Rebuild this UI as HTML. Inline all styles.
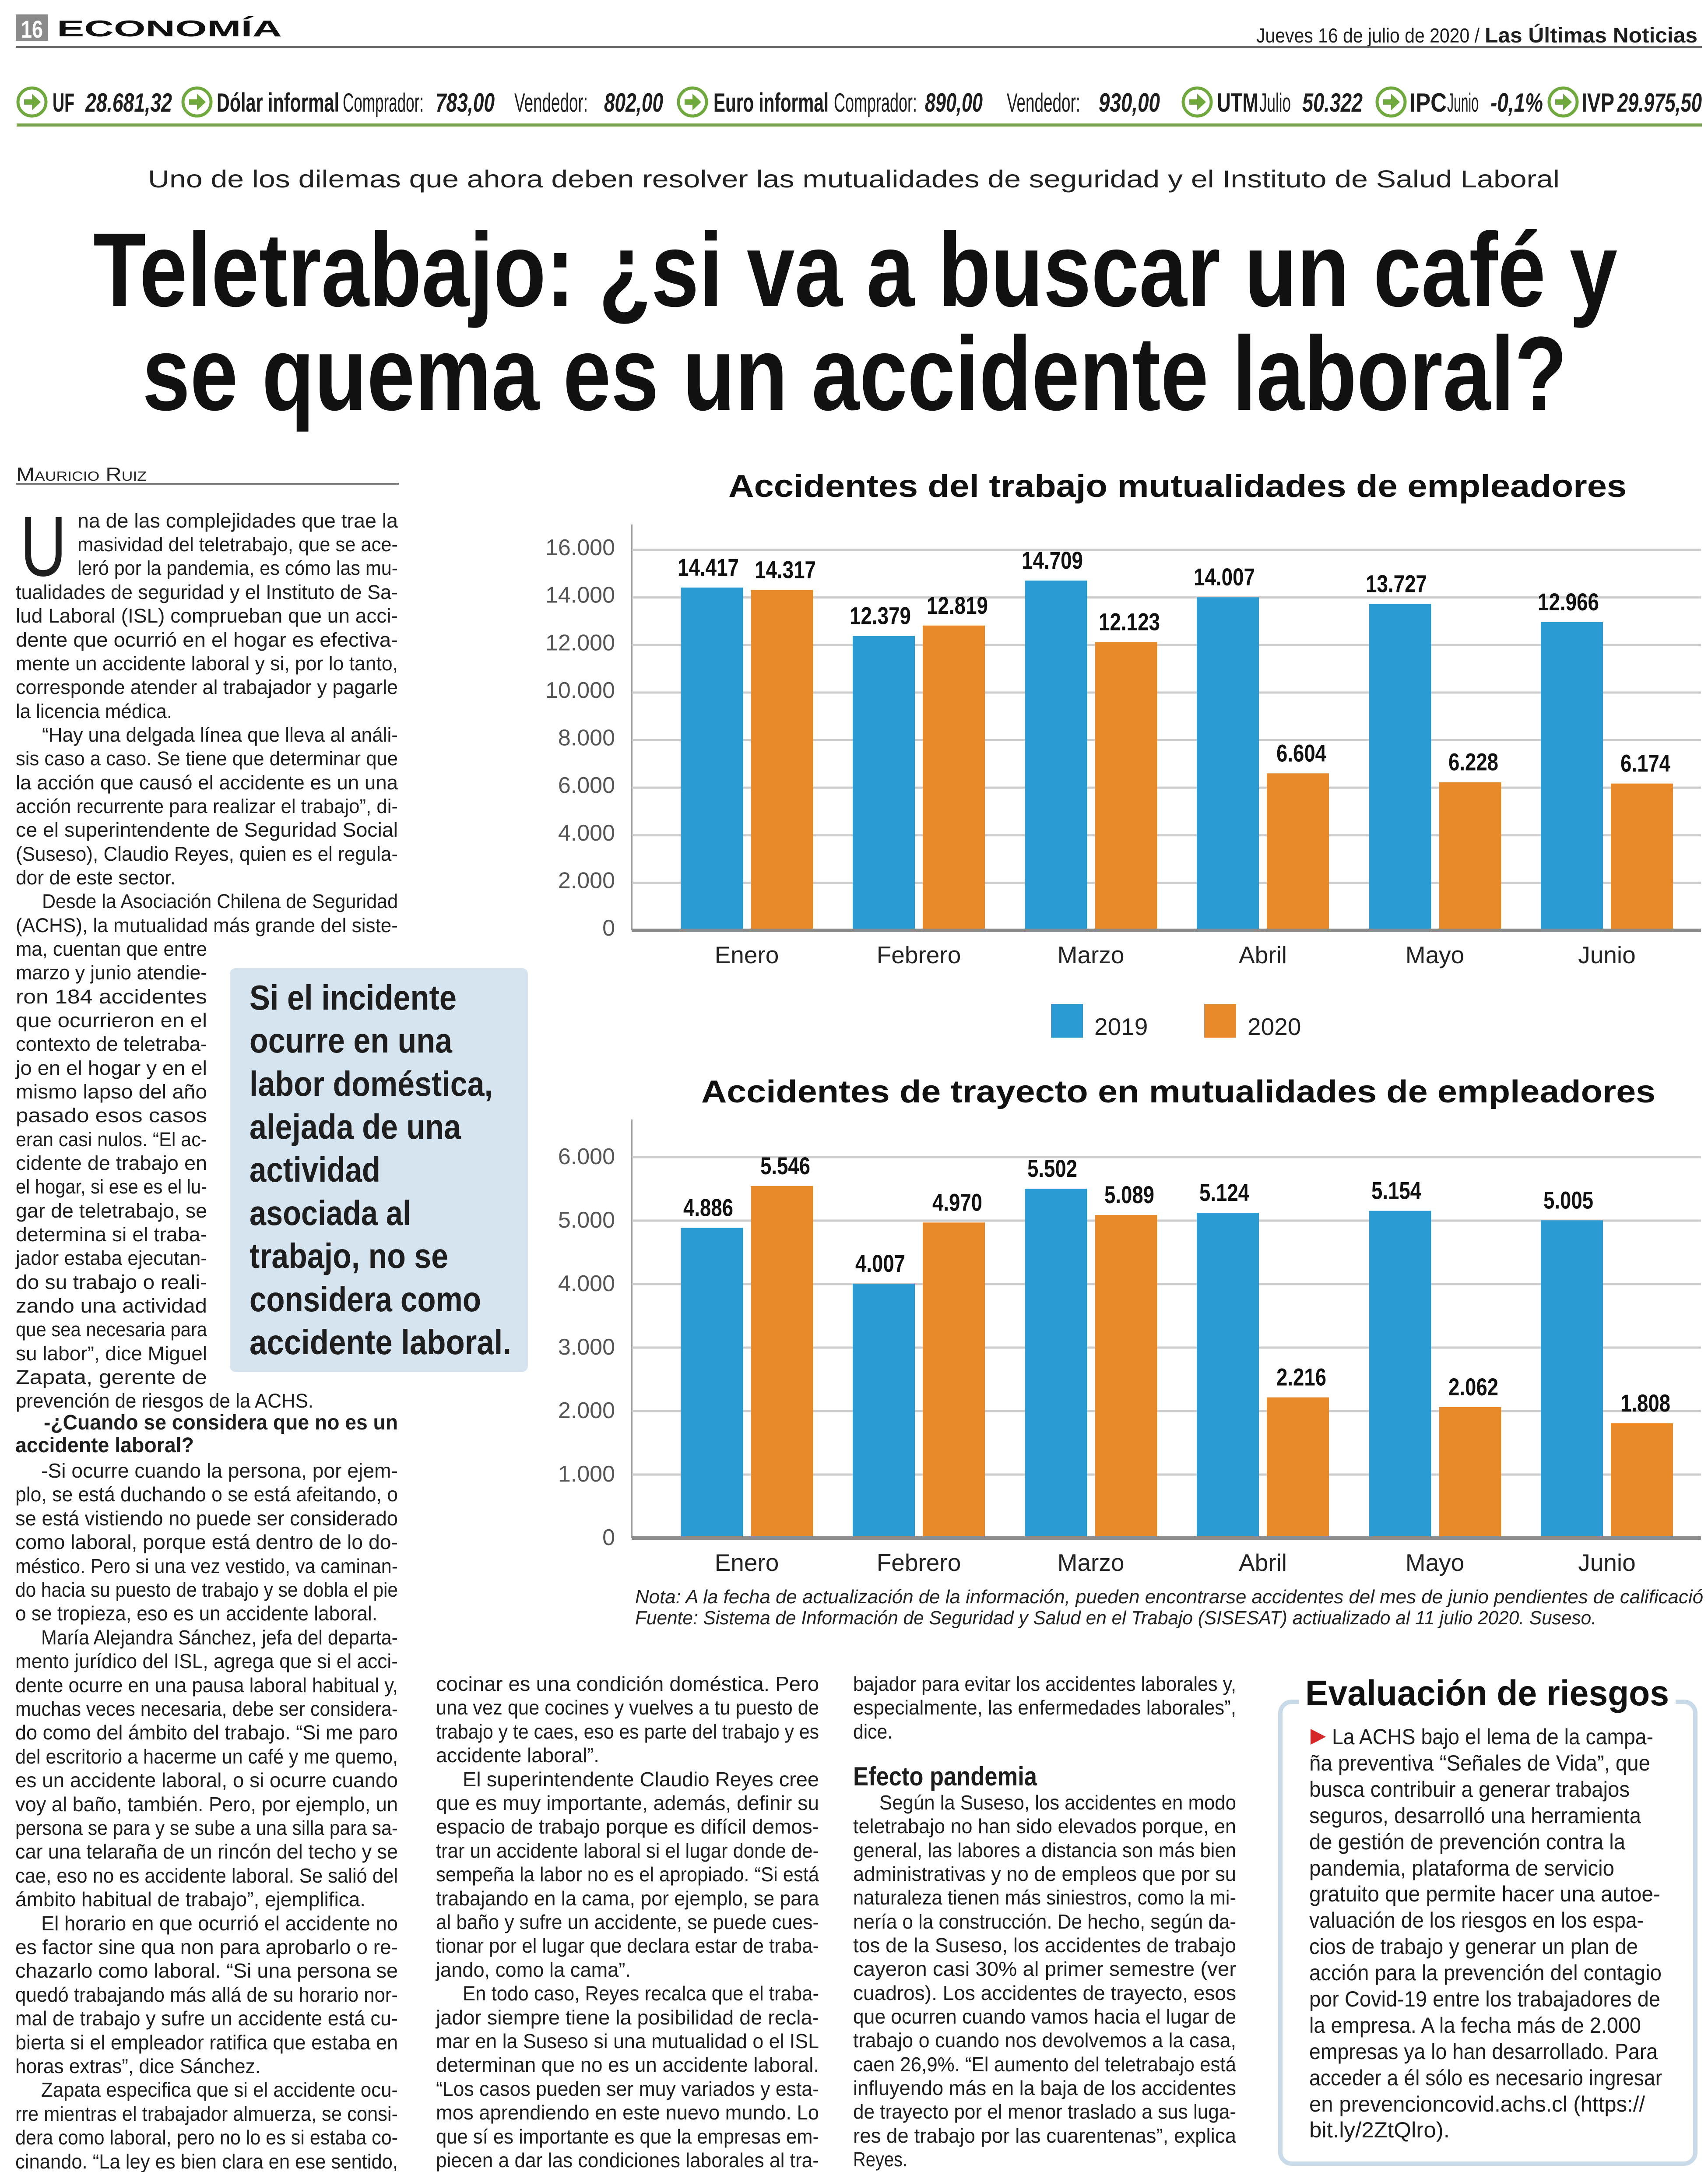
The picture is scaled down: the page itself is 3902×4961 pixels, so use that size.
<!DOCTYPE html>
<html lang="es">
<head>
<meta charset="utf-8">
<title>Teletrabajo: ¿si va a buscar un café y se quema es un accidente laboral?</title>
<style>
html,body{margin:0;padding:0;background:#fff;}
body{width:3902px;height:4961px;overflow:hidden;}
svg{display:block;}
text{font-family:"Liberation Sans",sans-serif;fill:#1e1e1e;}
.b{font-weight:bold;}
.body1{font-size:45px;}
.body2{font-size:46px;}
.boxt{font-size:50px;}
.tick{font-size:52px;fill:#555;}
.month{font-size:55px;fill:#222;}
.val{font-size:56px;font-weight:bold;fill:#111;}
.ctitle{font-size:72px;font-weight:bold;fill:#111;}
.note{font-size:44px;font-style:italic;fill:#222;}
.tk{font-size:60px;}
</style>
</head>
<body>
<svg id="page" width="3902" height="4961" viewBox="0 0 3902 4961" xmlns="http://www.w3.org/2000/svg">
<rect x="0" y="0" width="3902" height="4961" fill="#fff"/>

<!-- Header -->
<g>
  <rect x="36" y="33" width="74" height="60" fill="#8a8a8a"/>
  <text x="73" y="86" text-anchor="middle" class="b" font-size="56" style="fill:#fff" textLength="50" lengthAdjust="spacingAndGlyphs">16</text>
  <text x="130" y="83" class="b" font-size="52" textLength="514" lengthAdjust="spacingAndGlyphs" style="fill:#111">ECONOMÍA</text>
  <text x="2870" y="97" font-size="46" textLength="510" lengthAdjust="spacingAndGlyphs">Jueves 16 de julio de 2020 /</text>
  <text x="3392" y="97" class="b" font-size="48" textLength="486" lengthAdjust="spacingAndGlyphs">Las Últimas Noticias</text>
  <rect x="36" y="105" width="3852" height="4" fill="#666"/>
</g>

<!-- Ticker -->
<g>
  <g fill="#fff" stroke="#6fa83d" stroke-width="7">
    <circle cx="73" cy="233" r="32"/>
    <circle cx="450" cy="233" r="32"/>
    <circle cx="1582" cy="233" r="32"/>
    <circle cx="2735" cy="233" r="32"/>
    <circle cx="3178" cy="233" r="32"/>
    <circle cx="3571" cy="233" r="32"/>
  </g>
  <g fill="#6fa83d">
    <path d="M55 227h18v-13l20 19-20 19v-13h-18z"/>
    <path d="M432 227h18v-13l20 19-20 19v-13h-18z"/>
    <path d="M1564 227h18v-13l20 19-20 19v-13h-18z"/>
    <path d="M2717 227h18v-13l20 19-20 19v-13h-18z"/>
    <path d="M3160 227h18v-13l20 19-20 19v-13h-18z"/>
    <path d="M3553 227h18v-13l20 19-20 19v-13h-18z"/>
  </g>
  <text class="tk b" x="120" y="255" textLength="50" lengthAdjust="spacingAndGlyphs">UF</text>
  <text class="tk b" x="195" y="255" font-style="italic" textLength="198" lengthAdjust="spacingAndGlyphs">28.681,32</text>
  <text class="tk b" x="495" y="255" textLength="280" lengthAdjust="spacingAndGlyphs">Dólar informal</text>
  <text class="tk" x="783" y="255" textLength="185" lengthAdjust="spacingAndGlyphs">Comprador:</text>
  <text class="tk b" x="995" y="255" font-style="italic" textLength="135" lengthAdjust="spacingAndGlyphs">783,00</text>
  <text class="tk" x="1175" y="255" textLength="168" lengthAdjust="spacingAndGlyphs">Vendedor:</text>
  <text class="tk b" x="1380" y="255" font-style="italic" textLength="135" lengthAdjust="spacingAndGlyphs">802,00</text>
  <text class="tk b" x="1630" y="255" textLength="263" lengthAdjust="spacingAndGlyphs">Euro informal</text>
  <text class="tk" x="1905" y="255" textLength="190" lengthAdjust="spacingAndGlyphs">Comprador:</text>
  <text class="tk b" x="2113" y="255" font-style="italic" textLength="132" lengthAdjust="spacingAndGlyphs">890,00</text>
  <text class="tk" x="2300" y="255" textLength="168" lengthAdjust="spacingAndGlyphs">Vendedor:</text>
  <text class="tk b" x="2510" y="255" font-style="italic" textLength="140" lengthAdjust="spacingAndGlyphs">930,00</text>
  <text class="tk b" x="2780" y="255" textLength="95" lengthAdjust="spacingAndGlyphs">UTM</text>
  <text class="tk" x="2877" y="255" font-size="48" textLength="72" lengthAdjust="spacingAndGlyphs">Julio</text>
  <text class="tk b" x="2975" y="255" font-style="italic" textLength="138" lengthAdjust="spacingAndGlyphs">50.322</text>
  <text class="tk b" x="3220" y="255" textLength="85" lengthAdjust="spacingAndGlyphs">IPC</text>
  <text class="tk" x="3306" y="255" font-size="48" textLength="72" lengthAdjust="spacingAndGlyphs">Junio</text>
  <text class="tk b" x="3405" y="255" font-style="italic" textLength="120" lengthAdjust="spacingAndGlyphs">-0,1%</text>
  <text class="tk b" x="3613" y="255" textLength="75" lengthAdjust="spacingAndGlyphs">IVP</text>
  <text class="tk b" x="3695" y="255" font-style="italic" textLength="193" lengthAdjust="spacingAndGlyphs">29.975,50</text>
  <rect x="38" y="282" width="3850" height="7" fill="#7aa84a"/>
</g>

<!-- Headline -->
<text x="338" y="428" font-size="56" textLength="3225" lengthAdjust="spacingAndGlyphs" style="fill:#222">Uno de los dilemas que ahora deben resolver las mutualidades de seguridad y el Instituto de Salud Laboral</text>
<text x="213" y="699" class="b" font-size="240" textLength="3482" lengthAdjust="spacingAndGlyphs" style="fill:#111">Teletrabajo: ¿si va a buscar un café y</text>
<text x="325" y="936" class="b" font-size="240" textLength="3255" lengthAdjust="spacingAndGlyphs" style="fill:#111">se quema es un accidente laboral?</text>

<!-- Byline -->
<text x="37" y="1098" font-size="44" style="font-variant:small-caps;fill:#222" textLength="298" lengthAdjust="spacingAndGlyphs">Mauricio Ruiz</text>
<rect x="37" y="1103" width="874" height="4" fill="#777"/>

<!-- Column 1 top -->
<g class="body1">
  <text x="46" y="1315" font-size="195" textLength="106" lengthAdjust="spacingAndGlyphs">U</text>
  <text x="177" y="1205" textLength="732" lengthAdjust="spacingAndGlyphs">na de las complejidades que trae la</text>
  <text x="177" y="1259" textLength="732" lengthAdjust="spacingAndGlyphs">masividad del teletrabajo, que se ace-</text>
  <text x="177" y="1313" textLength="732" lengthAdjust="spacingAndGlyphs">leró por la pandemia, es cómo las mu-</text>
  <text x="36" y="1368" textLength="873" lengthAdjust="spacingAndGlyphs">tualidades de seguridad y el Instituto de Sa-</text>
  <text x="36" y="1422" textLength="873" lengthAdjust="spacingAndGlyphs">lud Laboral (ISL) comprueban que un acci-</text>
  <text x="36" y="1477" textLength="873" lengthAdjust="spacingAndGlyphs">dente que ocurrió en el hogar es efectiva-</text>
  <text x="36" y="1531" textLength="873" lengthAdjust="spacingAndGlyphs">mente un accidente laboral y si, por lo tanto,</text>
  <text x="36" y="1585" textLength="873" lengthAdjust="spacingAndGlyphs">corresponde atender al trabajador y pagarle</text>
  <text x="36" y="1640" textLength="357" lengthAdjust="spacingAndGlyphs">la licencia médica.</text>
  <text x="96" y="1694" textLength="813" lengthAdjust="spacingAndGlyphs">“Hay una delgada línea que lleva al análi-</text>
  <text x="36" y="1748" textLength="873" lengthAdjust="spacingAndGlyphs">sis caso a caso. Se tiene que determinar que</text>
  <text x="36" y="1803" textLength="873" lengthAdjust="spacingAndGlyphs">la acción que causó el accidente es un una</text>
  <text x="36" y="1857" textLength="873" lengthAdjust="spacingAndGlyphs">acción recurrente para realizar el trabajo”, di-</text>
  <text x="36" y="1911" textLength="873" lengthAdjust="spacingAndGlyphs">ce el superintendente de Seguridad Social</text>
  <text x="36" y="1966" textLength="873" lengthAdjust="spacingAndGlyphs">(Suseso), Claudio Reyes, quien es el regula-</text>
  <text x="36" y="2020" textLength="365" lengthAdjust="spacingAndGlyphs">dor de este sector.</text>
  <text x="96" y="2074" textLength="813" lengthAdjust="spacingAndGlyphs">Desde la Asociación Chilena de Seguridad</text>
  <text x="36" y="2129" textLength="873" lengthAdjust="spacingAndGlyphs">(ACHS), la mutualidad más grande del siste-</text>
  <text x="36" y="2183" textLength="437" lengthAdjust="spacingAndGlyphs">ma, cuentan que entre</text>
  <text x="36" y="2237" textLength="437" lengthAdjust="spacingAndGlyphs">marzo y junio atendie-</text>
  <text x="36" y="2292" textLength="437" lengthAdjust="spacingAndGlyphs">ron 184 accidentes</text>
  <text x="36" y="2346" textLength="437" lengthAdjust="spacingAndGlyphs">que ocurrieron en el</text>
  <text x="36" y="2400" textLength="437" lengthAdjust="spacingAndGlyphs">contexto de teletraba-</text>
  <text x="36" y="2455" textLength="437" lengthAdjust="spacingAndGlyphs">jo en el hogar y en el</text>
  <text x="36" y="2509" textLength="437" lengthAdjust="spacingAndGlyphs">mismo lapso del año</text>
  <text x="36" y="2563" textLength="437" lengthAdjust="spacingAndGlyphs">pasado esos casos</text>
  <text x="36" y="2618" textLength="437" lengthAdjust="spacingAndGlyphs">eran casi nulos. “El ac-</text>
  <text x="36" y="2672" textLength="437" lengthAdjust="spacingAndGlyphs">cidente de trabajo en</text>
  <text x="36" y="2726" textLength="437" lengthAdjust="spacingAndGlyphs">el hogar, si ese es el lu-</text>
  <text x="36" y="2781" textLength="437" lengthAdjust="spacingAndGlyphs">gar de teletrabajo, se</text>
  <text x="36" y="2835" textLength="437" lengthAdjust="spacingAndGlyphs">determina si el traba-</text>
  <text x="36" y="2889" textLength="437" lengthAdjust="spacingAndGlyphs">jador estaba ejecutan-</text>
  <text x="36" y="2944" textLength="437" lengthAdjust="spacingAndGlyphs">do su trabajo o reali-</text>
  <text x="36" y="2998" textLength="437" lengthAdjust="spacingAndGlyphs">zando una actividad</text>
  <text x="36" y="3052" textLength="437" lengthAdjust="spacingAndGlyphs">que sea necesaria para</text>
  <text x="36" y="3107" textLength="437" lengthAdjust="spacingAndGlyphs">su labor”, dice Miguel</text>
  <text x="36" y="3161" textLength="437" lengthAdjust="spacingAndGlyphs">Zapata, gerente de</text>
  <text x="36" y="3215" textLength="680" lengthAdjust="spacingAndGlyphs">prevención de riesgos de la ACHS.</text>
</g>

<!-- Pull quote -->
<g>
  <rect x="525" y="2211" width="681" height="923" rx="14" fill="#d5e4ef"/>
  <g font-size="80" class="b" style="font-weight:600">
    <text x="570" y="2306" textLength="473" lengthAdjust="spacingAndGlyphs">Si el incidente</text>
    <text x="570" y="2404" textLength="463" lengthAdjust="spacingAndGlyphs">ocurre en una</text>
    <text x="570" y="2503" textLength="556" lengthAdjust="spacingAndGlyphs">labor doméstica,</text>
    <text x="570" y="2601" textLength="483" lengthAdjust="spacingAndGlyphs">alejada de una</text>
    <text x="570" y="2699" textLength="299" lengthAdjust="spacingAndGlyphs">actividad</text>
    <text x="570" y="2798" textLength="369" lengthAdjust="spacingAndGlyphs">asociada al</text>
    <text x="570" y="2896" textLength="454" lengthAdjust="spacingAndGlyphs">trabajo, no se</text>
    <text x="570" y="2995" textLength="529" lengthAdjust="spacingAndGlyphs">considera como</text>
    <text x="570" y="3093" textLength="598" lengthAdjust="spacingAndGlyphs">accidente laboral.</text>
  </g>
</g>

<!-- Column 1 bottom -->
<g class="body2">
  <text x="100" y="3265" class="b" font-size="48" textLength="809" lengthAdjust="spacingAndGlyphs">-¿Cuando se considera que no es un</text>
  <text x="35" y="3317" class="b" font-size="48" textLength="408" lengthAdjust="spacingAndGlyphs">accidente laboral?</text>
  <text x="94" y="3375" textLength="815" lengthAdjust="spacingAndGlyphs">-Si ocurre cuando la persona, por ejem-</text>
  <text x="35" y="3429" textLength="874" lengthAdjust="spacingAndGlyphs">plo, se está duchando o se está afeitando, o</text>
  <text x="35" y="3484" textLength="874" lengthAdjust="spacingAndGlyphs">se está vistiendo no puede ser considerado</text>
  <text x="35" y="3538" textLength="874" lengthAdjust="spacingAndGlyphs">como laboral, porque está dentro de lo do-</text>
  <text x="35" y="3593" textLength="874" lengthAdjust="spacingAndGlyphs">méstico. Pero si una vez vestido, va caminan-</text>
  <text x="35" y="3647" textLength="874" lengthAdjust="spacingAndGlyphs">do hacia su puesto de trabajo y se dobla el pie</text>
  <text x="35" y="3701" textLength="827" lengthAdjust="spacingAndGlyphs">o se tropieza, eso es un accidente laboral.</text>
  <text x="94" y="3756" textLength="815" lengthAdjust="spacingAndGlyphs">María Alejandra Sánchez, jefa del departa-</text>
  <text x="35" y="3810" textLength="874" lengthAdjust="spacingAndGlyphs">mento jurídico del ISL, agrega que si el acci-</text>
  <text x="35" y="3865" textLength="874" lengthAdjust="spacingAndGlyphs">dente ocurre en una pausa laboral habitual y,</text>
  <text x="35" y="3919" textLength="874" lengthAdjust="spacingAndGlyphs">muchas veces necesaria, debe ser considera-</text>
  <text x="35" y="3973" textLength="874" lengthAdjust="spacingAndGlyphs">do como del ámbito del trabajo. “Si me paro</text>
  <text x="35" y="4028" textLength="874" lengthAdjust="spacingAndGlyphs">del escritorio a hacerme un café y me quemo,</text>
  <text x="35" y="4082" textLength="874" lengthAdjust="spacingAndGlyphs">es un accidente laboral, o si ocurre cuando</text>
  <text x="35" y="4137" textLength="874" lengthAdjust="spacingAndGlyphs">voy al baño, también. Pero, por ejemplo, un</text>
  <text x="35" y="4191" textLength="874" lengthAdjust="spacingAndGlyphs">persona se para y se sube a una silla para sa-</text>
  <text x="35" y="4245" textLength="874" lengthAdjust="spacingAndGlyphs">car una telaraña de un rincón del techo y se</text>
  <text x="35" y="4300" textLength="874" lengthAdjust="spacingAndGlyphs">cae, eso no es accidente laboral. Se salió del</text>
  <text x="35" y="4354" textLength="800" lengthAdjust="spacingAndGlyphs">ámbito habitual de trabajo”, ejemplifica.</text>
  <text x="94" y="4409" textLength="815" lengthAdjust="spacingAndGlyphs">El horario en que ocurrió el accidente no</text>
  <text x="35" y="4463" textLength="874" lengthAdjust="spacingAndGlyphs">es factor sine qua non para aprobarlo o re-</text>
  <text x="35" y="4517" textLength="874" lengthAdjust="spacingAndGlyphs">chazarlo como laboral. “Si una persona se</text>
  <text x="35" y="4572" textLength="874" lengthAdjust="spacingAndGlyphs">quedó trabajando más allá de su horario nor-</text>
  <text x="35" y="4626" textLength="874" lengthAdjust="spacingAndGlyphs">mal de trabajo y sufre un accidente está cu-</text>
  <text x="35" y="4681" textLength="874" lengthAdjust="spacingAndGlyphs">bierta si el empleador ratifica que estaba en</text>
  <text x="35" y="4735" textLength="560" lengthAdjust="spacingAndGlyphs">horas extras”, dice Sánchez.</text>
  <text x="94" y="4789" textLength="815" lengthAdjust="spacingAndGlyphs">Zapata especifica que si el accidente ocu-</text>
  <text x="35" y="4844" textLength="874" lengthAdjust="spacingAndGlyphs">rre mientras el trabajador almuerza, se consi-</text>
  <text x="35" y="4898" textLength="874" lengthAdjust="spacingAndGlyphs">dera como laboral, pero no lo es si estaba co-</text>
  <text x="35" y="4953" textLength="874" lengthAdjust="spacingAndGlyphs">cinando. “La ley es bien clara en ese sentido,</text>
</g>

<!-- Column 2 -->
<g class="body2">
  <text x="996" y="3862" textLength="875" lengthAdjust="spacingAndGlyphs">cocinar es una condición doméstica. Pero</text>
  <text x="996" y="3916" textLength="875" lengthAdjust="spacingAndGlyphs">una vez que cocines y vuelves a tu puesto de</text>
  <text x="996" y="3971" textLength="875" lengthAdjust="spacingAndGlyphs">trabajo y te caes, eso es parte del trabajo y es</text>
  <text x="996" y="4025" textLength="373" lengthAdjust="spacingAndGlyphs">accidente laboral”.</text>
  <text x="1057" y="4080" textLength="814" lengthAdjust="spacingAndGlyphs">El superintendente Claudio Reyes cree</text>
  <text x="996" y="4134" textLength="875" lengthAdjust="spacingAndGlyphs">que es muy importante, además, definir su</text>
  <text x="996" y="4188" textLength="875" lengthAdjust="spacingAndGlyphs">espacio de trabajo porque es difícil demos-</text>
  <text x="996" y="4243" textLength="875" lengthAdjust="spacingAndGlyphs">trar un accidente laboral si el lugar donde de-</text>
  <text x="996" y="4297" textLength="875" lengthAdjust="spacingAndGlyphs">sempeña la labor no es el apropiado. “Si está</text>
  <text x="996" y="4352" textLength="875" lengthAdjust="spacingAndGlyphs">trabajando en la cama, por ejemplo, se para</text>
  <text x="996" y="4406" textLength="875" lengthAdjust="spacingAndGlyphs">al baño y sufre un accidente, se puede cues-</text>
  <text x="996" y="4460" textLength="875" lengthAdjust="spacingAndGlyphs">tionar por el lugar que declara estar de traba-</text>
  <text x="996" y="4515" textLength="445" lengthAdjust="spacingAndGlyphs">jando, como la cama”.</text>
  <text x="1057" y="4569" textLength="814" lengthAdjust="spacingAndGlyphs">En todo caso, Reyes recalca que el traba-</text>
  <text x="996" y="4624" textLength="875" lengthAdjust="spacingAndGlyphs">jador siempre tiene la posibilidad de recla-</text>
  <text x="996" y="4678" textLength="875" lengthAdjust="spacingAndGlyphs">mar en la Suseso si una mutualidad o el ISL</text>
  <text x="996" y="4732" textLength="875" lengthAdjust="spacingAndGlyphs">determinan que no es un accidente laboral.</text>
  <text x="996" y="4787" textLength="875" lengthAdjust="spacingAndGlyphs">“Los casos pueden ser muy variados y esta-</text>
  <text x="996" y="4841" textLength="875" lengthAdjust="spacingAndGlyphs">mos aprendiendo en este nuevo mundo. Lo</text>
  <text x="996" y="4896" textLength="875" lengthAdjust="spacingAndGlyphs">que sí es importante es que la empresas em-</text>
  <text x="996" y="4950" textLength="875" lengthAdjust="spacingAndGlyphs">piecen a dar las condiciones laborales al tra-</text>
</g>

<!-- Column 3 -->
<g class="body2">
  <text x="1949" y="3862" textLength="875" lengthAdjust="spacingAndGlyphs">bajador para evitar los accidentes laborales y,</text>
  <text x="1949" y="3916" textLength="875" lengthAdjust="spacingAndGlyphs">especialmente, las enfermedades laborales”,</text>
  <text x="1949" y="3971" textLength="90" lengthAdjust="spacingAndGlyphs">dice.</text>
  <text x="1949" y="4078" class="b" font-size="60" textLength="420" lengthAdjust="spacingAndGlyphs">Efecto pandemia</text>
  <text x="2009" y="4133" textLength="815" lengthAdjust="spacingAndGlyphs">Según la Suseso, los accidentes en modo</text>
  <text x="1949" y="4187" textLength="875" lengthAdjust="spacingAndGlyphs">teletrabajo no han sido elevados porque, en</text>
  <text x="1949" y="4242" textLength="875" lengthAdjust="spacingAndGlyphs">general, las labores a distancia son más bien</text>
  <text x="1949" y="4296" textLength="875" lengthAdjust="spacingAndGlyphs">administrativas y no de empleos que por su</text>
  <text x="1949" y="4350" textLength="875" lengthAdjust="spacingAndGlyphs">naturaleza tienen más siniestros, como la mi-</text>
  <text x="1949" y="4405" textLength="875" lengthAdjust="spacingAndGlyphs">nería o la construcción. De hecho, según da-</text>
  <text x="1949" y="4459" textLength="875" lengthAdjust="spacingAndGlyphs">tos de la Suseso, los accidentes de trabajo</text>
  <text x="1949" y="4513" textLength="875" lengthAdjust="spacingAndGlyphs">cayeron casi 30% al primer semestre (ver</text>
  <text x="1949" y="4568" textLength="875" lengthAdjust="spacingAndGlyphs">cuadros). Los accidentes de trayecto, esos</text>
  <text x="1949" y="4622" textLength="875" lengthAdjust="spacingAndGlyphs">que ocurren cuando vamos hacia el lugar de</text>
  <text x="1949" y="4676" textLength="875" lengthAdjust="spacingAndGlyphs">trabajo o cuando nos devolvemos a la casa,</text>
  <text x="1949" y="4731" textLength="875" lengthAdjust="spacingAndGlyphs">caen 26,9%. “El aumento del teletrabajo está</text>
  <text x="1949" y="4785" textLength="875" lengthAdjust="spacingAndGlyphs">influyendo más en la baja de los accidentes</text>
  <text x="1949" y="4839" textLength="875" lengthAdjust="spacingAndGlyphs">de trayecto por el menor traslado a sus luga-</text>
  <text x="1949" y="4894" textLength="875" lengthAdjust="spacingAndGlyphs">res de trabajo por las cuarentenas”, explica</text>
  <text x="1949" y="4948" textLength="124" lengthAdjust="spacingAndGlyphs">Reyes.</text>
</g>

<!-- Sidebar box -->
<g>
  <rect x="2925" y="3887" width="948" height="1055" rx="26" fill="#fff" stroke="#c9dbe8" stroke-width="10"/>
  <rect x="2968" y="3820" width="860" height="90" fill="#fff"/>
  <text x="2982" y="3895" font-size="82" style="fill:#111;font-weight:600" textLength="831" lengthAdjust="spacingAndGlyphs">Evaluación de riesgos</text>
  <path d="M2994 3949 L3029 3967 L2994 3985 Z" fill="#d62828"/>
  <g class="boxt">
    <text x="3043" y="3984" textLength="734" lengthAdjust="spacingAndGlyphs">La ACHS bajo el lema de la campa-</text>
    <text x="2991" y="4044" textLength="779" lengthAdjust="spacingAndGlyphs">ña preventiva “Señales de Vida”, que</text>
    <text x="2991" y="4104" textLength="732" lengthAdjust="spacingAndGlyphs">busca contribuir a generar trabajos</text>
    <text x="2991" y="4164" textLength="758" lengthAdjust="spacingAndGlyphs">seguros, desarrolló una herramienta</text>
    <text x="2991" y="4224" textLength="722" lengthAdjust="spacingAndGlyphs">de gestión de prevención contra la</text>
    <text x="2991" y="4284" textLength="697" lengthAdjust="spacingAndGlyphs">pandemia, plataforma de servicio</text>
    <text x="2991" y="4343" textLength="802" lengthAdjust="spacingAndGlyphs">gratuito que permite hacer una autoe-</text>
    <text x="2991" y="4403" textLength="764" lengthAdjust="spacingAndGlyphs">valuación de los riesgos en los espa-</text>
    <text x="2991" y="4463" textLength="751" lengthAdjust="spacingAndGlyphs">cios de trabajo y generar un plan de</text>
    <text x="2991" y="4523" textLength="805" lengthAdjust="spacingAndGlyphs">acción para la prevención del contagio</text>
    <text x="2991" y="4583" textLength="802" lengthAdjust="spacingAndGlyphs">por Covid-19 entre los trabajadores de</text>
    <text x="2991" y="4643" textLength="758" lengthAdjust="spacingAndGlyphs">la empresa. A la fecha más de 2.000</text>
    <text x="2991" y="4703" textLength="796" lengthAdjust="spacingAndGlyphs">empresas ya lo han desarrollado. Para</text>
    <text x="2991" y="4763" textLength="806" lengthAdjust="spacingAndGlyphs">acceder a él sólo es necesario ingresar</text>
    <text x="2991" y="4823" textLength="767" lengthAdjust="spacingAndGlyphs">en prevencioncovid.achs.cl (https://</text>
    <text x="2991" y="4882" textLength="321" lengthAdjust="spacingAndGlyphs">bit.ly/2ZtQlro).</text>
  </g>
</g>

<!-- Charts -->
<g id="chart1">
  <text class="ctitle" x="1664" y="1135" textLength="2052" lengthAdjust="spacingAndGlyphs">Accidentes del trabajo mutualidades de empleadores</text>
</g>
<g id="chart2">
  <text class="ctitle" x="1602" y="2518" textLength="2180" lengthAdjust="spacingAndGlyphs">Accidentes de trayecto en mutualidades de empleadores</text>
  <text class="note" x="1451" y="3662" textLength="2440" lengthAdjust="spacingAndGlyphs">Nota: A la fecha de actualización de la información, pueden encontrarse accidentes del mes de junio pendientes de calificació</text>
  <text class="note" x="1451" y="3710" textLength="2196" lengthAdjust="spacingAndGlyphs">Fuente: Sistema de Información de Seguridad y Salud en el Trabajo (SISESAT) actiualizado al 11 julio 2020. Suseso.</text>
</g>
</svg>

<script>
var months = ["Enero", "Febrero", "Marzo", "Abril", "Mayo", "Junio"];
var seriesNames = ["2019", "2020"];
var trabajo2019 = [14417, 12379, 14709, 14007, 13727, 12966];
var trabajo2020 = [14317, 12819, 12123, 6604, 6228, 6174];
var trabajoTicks = [0, 2000, 4000, 6000, 8000, 10000, 12000, 14000, 16000];
var trayecto2019 = [4886, 4007, 5502, 5124, 5154, 5005];
var trayecto2020 = [5546, 4970, 5089, 2216, 2062, 1808];
var trayectoTicks = [0, 1000, 2000, 3000, 4000, 5000, 6000];

var NS = "http://www.w3.org/2000/svg";
var COLORS = ["#2b9bd3", "#e8892a"];

function fmt(v) {
  return String(v).replace(/\B(?=(\d{3})+(?!\d))/g, ".");
}
function mk(tag, attrs, parent) {
  var el = document.createElementNS(NS, tag);
  for (var k in attrs) el.setAttribute(k, attrs[k]);
  parent.appendChild(el);
  return el;
}

function drawChart(g, cfg, s2019, s2020, ticks) {
  var maxV = ticks[ticks.length - 1];
  var y = function (v) { return cfg.y0 - v * (cfg.y0 - cfg.yTop) / maxV; };
  var xAxis = 1443, xEnd = 3886;
  var groupStart = 1555, groupStep = 393, barW = 142, barGap = 18;
  var xBar = function (i, s) { return groupStart + i * groupStep + s * (barW + barGap); };

  var axis = mk("line", {x1: xAxis, y1: cfg.axisTop, x2: xAxis, y2: cfg.y0, stroke: "#9a9a9a", "stroke-width": 4}, g);
  
  

  ticks.forEach(function (t) {
    if (t > 0) {
      var gl = mk("line", {x1: xAxis, y1: y(t), x2: xEnd, y2: y(t), stroke: "#cdcdcd", "stroke-width": 5}, g);
      
      
    }
    var tl = mk("text", {x: 1405, y: y(t) + cfg.tickOff, "text-anchor": "end", "class": "tick"}, g);
    tl.textContent = fmt(t);
    
    
  });

  var series = [s2019, s2020];
  series.forEach(function (vals, s) {
    vals.forEach(function (v, i) {
      var r = mk("rect", {x: xBar(i, s), y: y(v), width: barW, height: cfg.y0 - y(v), fill: COLORS[s]}, g);
      
      
      var txt = fmt(v);
      var digits = txt.replace(/\D/g, "").length;
      var shift = s === 0 ? -8 : 8;
      var lb = mk("text", {x: xBar(i, s) + barW / 2 + shift, y: y(v) - 27, "text-anchor": "middle", "class": "val",
        textLength: digits * 26 + 10, lengthAdjust: "spacingAndGlyphs"}, g);
      lb.textContent = txt;
      
      
    });
  });

  var base = mk("line", {x1: xAxis, y1: cfg.y0, x2: xEnd, y2: cfg.y0, stroke: "#8c8c8c", "stroke-width": 8}, g);
  
  

  months.forEach(function (m, i) {
    var ml = mk("text", {x: groupStart + i * groupStep + barW + barGap / 2, y: cfg.monthY, "text-anchor": "middle", "class": "month"}, g);
    ml.textContent = m;
    
    
  });
}

drawChart(document.getElementById("chart1"), {y0: 2125, yTop: 1256, axisTop: 1198, tickOff: 12, monthY: 2200}, trabajo2019, trabajo2020, trabajoTicks);
drawChart(document.getElementById("chart2"), {y0: 3513, yTop: 2643, axisTop: 2557, tickOff: 16, monthY: 3588}, trayecto2019, trayecto2020, trayectoTicks);

var legend = mk("g", {}, document.getElementById("chart1"));


var legendX = [2401, 2751];
seriesNames.forEach(function (name, s) {
  var sw = mk("rect", {x: legendX[s], y: 2293, width: 73, height: 77, fill: COLORS[s]}, legend);
  
  
  var lt = mk("text", {x: legendX[s] + 99, y: 2364, "class": "month"}, legend);
  lt.textContent = name;
  
  
});
</script>
</body>
</html>
